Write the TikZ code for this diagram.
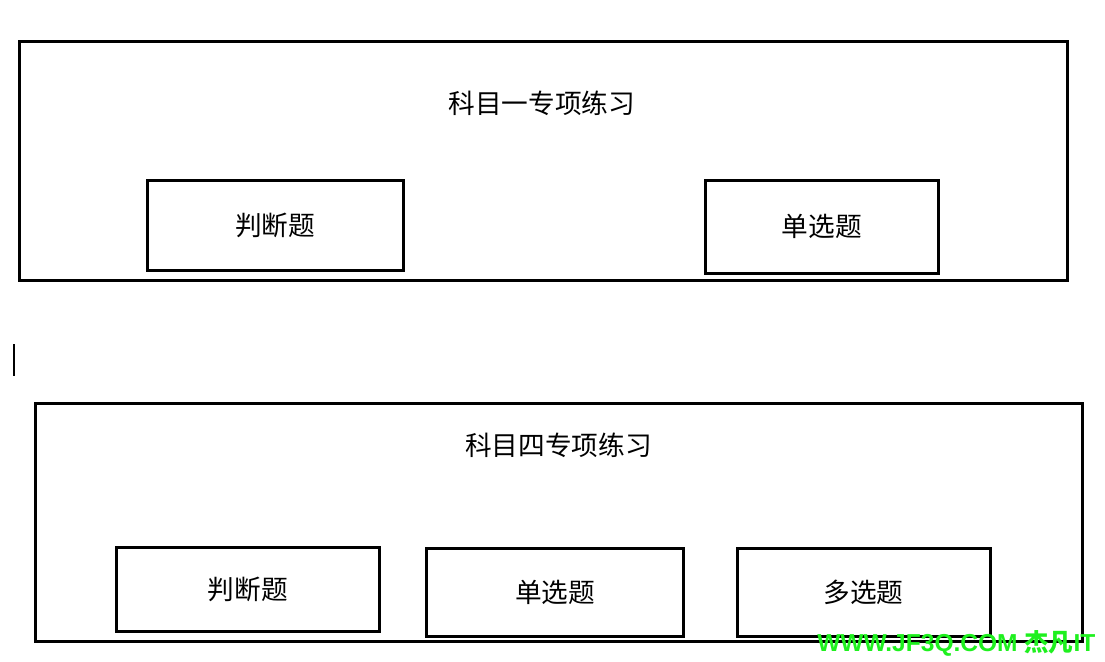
\documentclass[tikz,border=0pt]{standalone}
\usepackage{fontspec}
\newfontfamily\cjk{Noto Sans CJK SC}
\newfontfamily\markfont{Liberation Sans}
\definecolor{markgreen}{RGB}{30,240,30}
\begin{document}
\begin{tikzpicture}[x=0.75pt,y=-0.75pt,
    box/.style={draw, line width=2.25pt, inner sep=0pt},
    label/.style={font=\cjk\fontsize{20}{24}\selectfont}]
  \useasboundingbox (0,0) rectangle (1105,661);
  % subject one
  \node[box, minimum width=786pt, minimum height=178.9pt] (one) at (543.5,160.75) {};
  \node[label] (onetitle) at (541.7,103.5) {科目一专项练习};
  \node[box, label, minimum width=192pt, minimum height=67.5pt] (onejudge) at (275,225) {判断题};
  \node[box, label, minimum width=175.1pt, minimum height=69.75pt] (onesingle) at (821.75,226.5) {单选题};
  % cursor
  \coordinate (cursortop) at (14,344);
  \coordinate (cursorbot) at (14,376);
  \draw[line width=1.5pt] (cursortop) -- (cursorbot);
  % subject four
  \node[box, minimum width=785.25pt, minimum height=178.5pt] (four) at (559,522.5) {};
  \node[label] (fourtitle) at (558.5,445.5) {科目四专项练习};
  \node[box, label, minimum width=196.9pt, minimum height=63pt] (fourjudge) at (247.75,589.5) {判断题};
  \node[box, label, minimum width=192.4pt, minimum height=66pt] (foursingle) at (555.25,592) {单选题};
  \node[box, label, minimum width=189.75pt, minimum height=66pt] (fourmulti) at (863.5,592) {多选题};
  % watermark
  \node[anchor=base west, inner sep=0pt, text=markgreen,
        font=\markfont\bfseries\fontsize{18.4}{20}\selectfont] (mark) at (817,651)
        {WWW.JF3Q.COM {\cjk\bfseries 杰凡}IT};
\end{tikzpicture}
\end{document}
